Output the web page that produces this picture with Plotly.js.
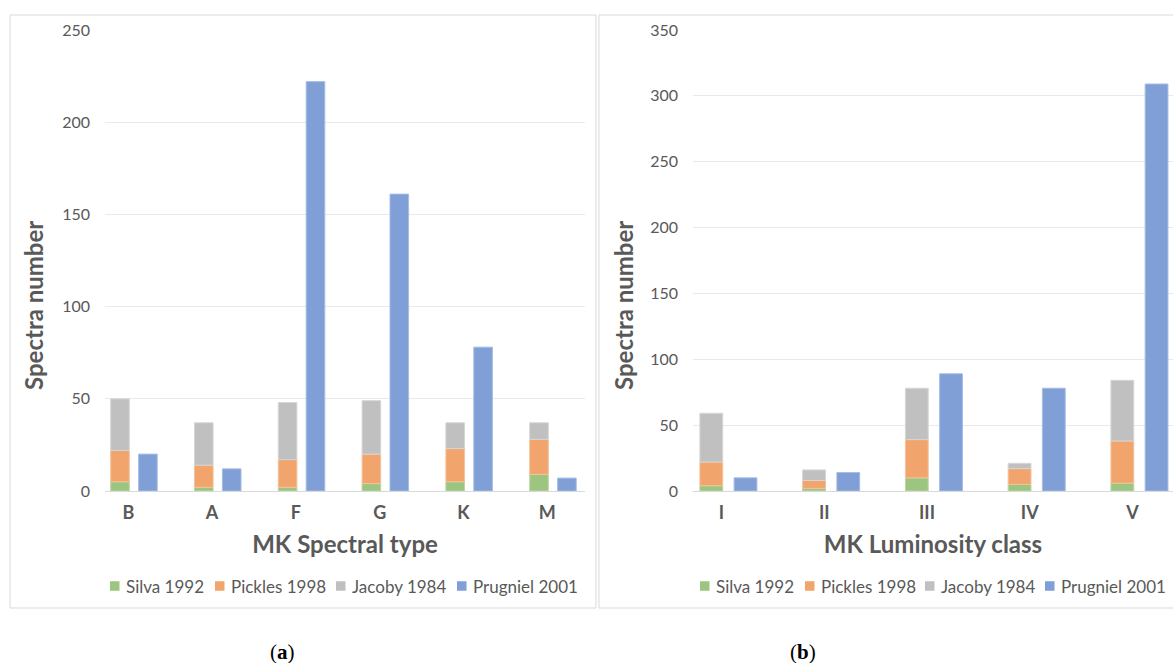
<!DOCTYPE html>
<html>
<head>
<meta charset="utf-8">
<script src="https://cdn.plot.ly/plotly-3.0.1.min.js"></script>
<style>
  html, body { margin: 0; padding: 0; background: #ffffff; }
  #chart { width: 1173px; height: 663px; }
</style>
</head>
<body>
<div id="chart"></div>
<script>
// ---------- data ----------
const seriesNames = ['Silva 1992', 'Pickles 1998', 'Jacoby 1984', 'Prugniel 2001'];

const spectralTypes = ['B', 'A', 'F', 'G', 'K', 'M'];
const silvaA    = [5, 2, 2, 4, 5, 9];
const picklesA  = [17, 12, 15, 16, 18, 19];
const jacobyA   = [28, 23, 31, 29, 14, 9];
const prugnielA = [20, 12, 222, 161, 78, 7];

const lumClasses = ['I', 'II', 'III', 'IV', 'V'];
const silvaB    = [4, 2, 10, 5, 6];
const picklesB  = [18, 6, 29, 12, 32];
const jacobyB   = [37, 8, 39, 4, 46];
const prugnielB = [10, 14, 89, 78, 309];

const yTicksA = [0, 50, 100, 150, 200, 250];
const yTicksB = [0, 50, 100, 150, 200, 250, 300, 350];

// ---------- style ----------
const colors = ['#9CC580', '#F1A46C', '#C0C0C0', '#7F9FD6'];
const edge   = ['#B9D7A5', '#F6C29C', '#D6D6D6', '#A6BCE4'];
const txt = '#595959';
const FONT = 'Lato, "Open Sans", sans-serif';
const W = 1173, H = 663;
const px = v => v / W;
const py = v => 1 - v / H;

const BAR_W = 0.222, STACK_OFF = -0.21, SOLO_OFF = 0.123;

function addSum(a, b) { return a.map((v, i) => v + b[i]); }

function stackTraces(cats, s, p, j, pr, xa, ya) {
  const bases = [cats.map(() => 0), s, addSum(s, p)];
  const vals = [s, p, j];
  const out = vals.map((v, k) => ({
    type: 'bar', name: seriesNames[k], x: cats, y: v, base: bases[k],
    offset: STACK_OFF, width: BAR_W, xaxis: xa, yaxis: ya, showlegend: false,
    marker: { color: colors[k], line: { color: edge[k], width: 1 } },
    hovertemplate: '%{x}: %{y}<extra>' + seriesNames[k] + '</extra>'
  }));
  out.push({
    type: 'bar', name: seriesNames[3], x: cats, y: pr,
    offset: SOLO_OFF, width: BAR_W, xaxis: xa, yaxis: ya, showlegend: false,
    marker: { color: colors[3], line: { color: edge[3], width: 1 } },
    hovertemplate: '%{x}: %{y}<extra>' + seriesNames[3] + '</extra>'
  });
  return out;
}

const data = [
  ...stackTraces(spectralTypes, silvaA, picklesA, jacobyA, prugnielA, 'x', 'y'),
  ...stackTraces(lumClasses, silvaB, picklesB, jacobyB, prugnielB, 'x2', 'y2')
];

const xCommon = {
  showgrid: false, zeroline: false, showline: false, ticks: '',
  ticklabelstandoff: 9,
  tickfont: { family: FONT, size: 18, color: txt, weight: 'bold' },
  fixedrange: true
};
const yCommon = {
  showgrid: true, gridcolor: '#EAEAEA', gridwidth: 1,
  zeroline: true, zerolinecolor: '#D9D9D9', zerolinewidth: 1,
  showline: false, ticks: '', ticklabelstandoff: 14,
  tickfont: { family: FONT, size: 16, color: txt },
  fixedrange: true
};

// legends (manual, as in the Excel figure)
const legendA = [110, 215, 336, 457];
const legendB = [700, 805, 925, 1045];
const legendY = 586, SQ = 9.5;
const shapes = [
  { type: 'rect', xref: 'paper', yref: 'paper', x0: px(10), x1: px(596), y0: py(608), y1: py(15),
    line: { color: '#D9D9D9', width: 1 }, fillcolor: 'rgba(0,0,0,0)', layer: 'below' },
  { type: 'rect', xref: 'paper', yref: 'paper', x0: px(599), x1: px(1180), y0: py(608), y1: py(15),
    line: { color: '#D9D9D9', width: 1 }, fillcolor: 'rgba(0,0,0,0)', layer: 'below' }
];
const annotations = [
  { text: 'Spectra number', xref: 'paper', yref: 'paper', x: px(33), y: py(306), textangle: -90,
    showarrow: false, xanchor: 'center', yanchor: 'middle',
    font: { family: FONT, size: 24, color: txt, weight: 'bold' } },
  { text: 'Spectra number', xref: 'paper', yref: 'paper', x: px(623), y: py(306), textangle: -90,
    showarrow: false, xanchor: 'center', yanchor: 'middle',
    font: { family: FONT, size: 24, color: txt, weight: 'bold' } },
  { text: '(<b>a</b>)', xref: 'paper', yref: 'paper', x: px(282), y: py(652), showarrow: false,
    xanchor: 'center', yanchor: 'middle', font: { family: '"Liberation Serif", serif', size: 21, color: '#000' } },
  { text: '(<b>b</b>)', xref: 'paper', yref: 'paper', x: px(803), y: py(652), showarrow: false,
    xanchor: 'center', yanchor: 'middle', font: { family: '"Liberation Serif", serif', size: 21, color: '#000' } }
];
[legendA, legendB].forEach(pos => {
  pos.forEach((x0, k) => {
    shapes.push({ type: 'rect', xref: 'paper', yref: 'paper',
      x0: px(x0), x1: px(x0 + SQ), y0: py(legendY + SQ / 2), y1: py(legendY - SQ / 2),
      line: { width: 0 }, fillcolor: colors[k] });
    annotations.push({ text: seriesNames[k], xref: 'paper', yref: 'paper',
      x: px(x0 + SQ + 4), y: py(legendY), xanchor: 'left', yanchor: 'middle', showarrow: false,
      font: { family: FONT, size: 17, color: txt } });
  });
});

const layout = {
  width: W, height: H,
  margin: { l: 0, r: 0, t: 0, b: 0 },
  paper_bgcolor: '#ffffff', plot_bgcolor: 'rgba(0,0,0,0)',
  barmode: 'overlay', showlegend: false,
  xaxis: Object.assign({}, xCommon, {
    domain: [px(105), px(585)], range: [-0.278, 5.45], anchor: 'y',
    title: { text: 'MK Spectral type', standoff: 14, font: { family: FONT, size: 24, color: txt, weight: 'bold' } }
  }),
  yaxis: Object.assign({}, yCommon, {
    domain: [py(491), py(30)], range: [0, 250], tickvals: yTicksA, anchor: 'x'
  }),
  xaxis2: Object.assign({}, xCommon, {
    domain: [px(693), 1], range: [-0.277, 4.394], anchor: 'y2',
    title: { text: 'MK Luminosity class', standoff: 14, font: { family: FONT, size: 24, color: txt, weight: 'bold' } }
  }),
  yaxis2: Object.assign({}, yCommon, {
    domain: [py(491), py(30)], range: [0, 350], tickvals: yTicksB, anchor: 'x2'
  }),
  shapes: shapes,
  annotations: annotations
};

Plotly.newPlot('chart', data, layout, { displayModeBar: false, staticPlot: false });
</script>
</body>
</html>
